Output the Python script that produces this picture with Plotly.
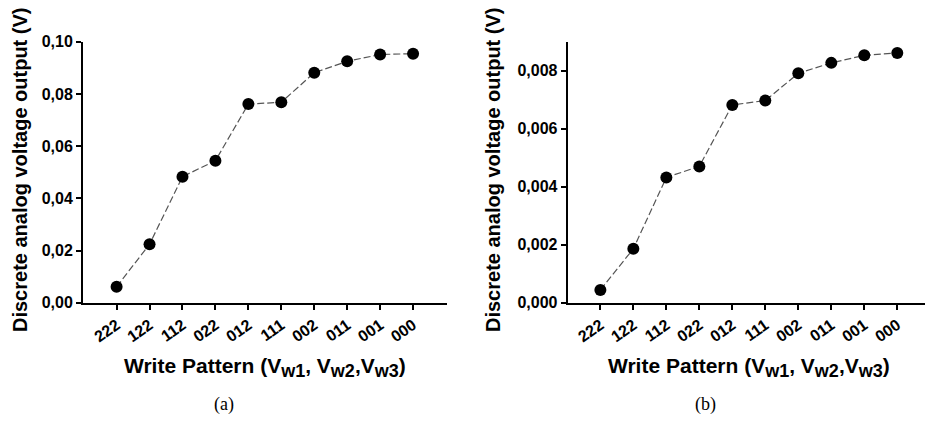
import plotly.graph_objects as go

patterns = ["222", "122", "112", "022", "012", "111", "002", "011", "001", "000"]
vout_a = [0.0061, 0.0224, 0.0483, 0.0544, 0.0761, 0.0768, 0.0881, 0.0925, 0.0951, 0.0954]
vout_b = [0.00044, 0.00186, 0.00432, 0.00470, 0.00682, 0.00697, 0.00791, 0.00827, 0.00853, 0.00861]
yticks_a = [0.00, 0.02, 0.04, 0.06, 0.08, 0.10]
yticks_b = [0.000, 0.002, 0.004, 0.006, 0.008]

W, H = 925, 421
FONT = "Liberation Sans, Arial, sans-serif"

fig = go.Figure()
line_style = dict(color="#555555", width=1.2, dash="7px,3px")
marker_style = dict(color="black", size=12)
fig.add_trace(go.Scatter(x=patterns, y=vout_a, mode="lines+markers", line=line_style,
                         marker=marker_style, xaxis="x", yaxis="y", showlegend=False))
fig.add_trace(go.Scatter(x=patterns, y=vout_b, mode="lines+markers", line=line_style,
                         marker=marker_style, xaxis="x2", yaxis="y2", showlegend=False))

def px(x):
    return x / W

def py(y):
    return 1 - y / H

ydom = [py(302.7), py(41.7)]
xaxis_common = dict(type="category", showline=True, linecolor="black", linewidth=2,
                    ticks="outside", ticklen=5, tickwidth=1.5, tickcolor="black",
                    showgrid=False, zeroline=False, tickangle=-35, automargin=False,
                    tickfont=dict(family=FONT, size=16, color="black", weight="bold"))
yaxis_common = dict(showline=True, linecolor="black", linewidth=2,
                    ticks="outside", ticklen=5, tickwidth=1.5, tickcolor="black",
                    showgrid=False, zeroline=False, automargin=False,
                    tickfont=dict(family=FONT, size=16, color="black", weight="bold"))

fig.update_layout(
    width=W, height=H,
    margin=dict(l=0, r=0, t=0, b=0),
    paper_bgcolor="white", plot_bgcolor="white",
    separators=", ",
    xaxis=dict(domain=[px(83), px(447)], range=[-1.02, 10.03], anchor="y", **xaxis_common),
    yaxis=dict(domain=ydom, range=[0, 0.1], tickvals=yticks_a, tickformat=".2f",
               anchor="x", **yaxis_common),
    xaxis2=dict(domain=[px(567.7), 1.0], range=[-0.99, 9.84], anchor="y2", **xaxis_common),
    yaxis2=dict(domain=ydom, range=[0, 0.009], tickvals=yticks_b, tickformat=".3f",
                anchor="x2", **yaxis_common),
)

ytitle_font = dict(family=FONT, size=20, color="black", weight="bold")
xtitle_font = dict(family=FONT, size=21, color="black", weight="bold")
sub = '<sub><span style="font-size:18px">{}</span></sub>'
xtitle = ("Write Pattern (V" + sub.format("w1") + ", V" + sub.format("w2")
          + ",V" + sub.format("w3") + ")")
ytitle = "Discrete analog voltage output (V)"
serif = dict(family="Liberation Serif, DejaVu Serif, serif", size=18, color="black")
annotations = [
    dict(text=ytitle, x=px(20), y=py(170), textangle=-90, font=ytitle_font),
    dict(text=ytitle, x=px(493), y=py(170), textangle=-90, font=ytitle_font),
    dict(text=xtitle, x=px(265), y=py(367), font=xtitle_font),
    dict(text=xtitle, x=px(749), y=py(367), font=xtitle_font),
    dict(text="(a)", x=px(224), y=py(404), font=serif),
    dict(text="(b)", x=px(705), y=py(404), font=serif),
]
for a in annotations:
    a.update(xref="paper", yref="paper", showarrow=False, xanchor="center", yanchor="middle")
fig.update_layout(annotations=annotations)

fig.write_html("out.html", config={"displayModeBar": False},
               post_script="document.body.style.margin='0';document.body.style.overflow='hidden';")
